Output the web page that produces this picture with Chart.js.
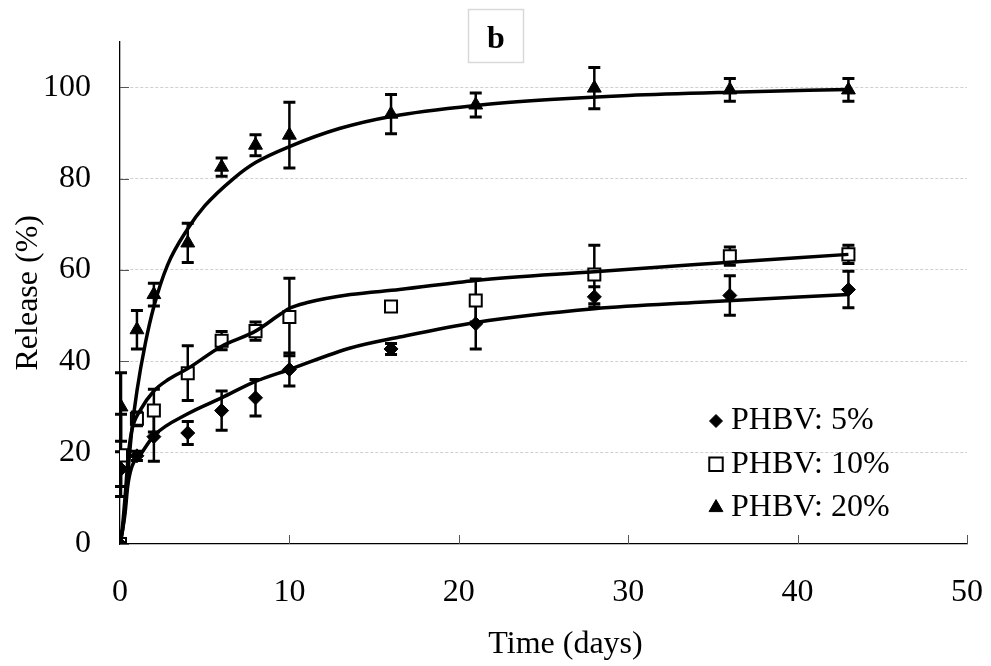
<!DOCTYPE html>
<html><head><meta charset="utf-8">
<script src="https://cdn.jsdelivr.net/npm/chart.js@4/dist/chart.umd.min.js"></script>
<style>html,body{margin:0;padding:0;background:#fff;}canvas{display:block;}</style>
</head><body>
<canvas id="c" width="991" height="666"></canvas>
<script>
// ---- data ----
const timeDays   = [0, 0.06, 1, 2, 4, 6, 8, 10, 16, 21, 28, 36, 43];
const release5   = [0, 16.4, 19.3, 23.5, 24.3, 29.2, 32.0, 38.2, 42.7, 48.2, 54.1, 54.4, 55.7];
const err5       = [0, 3.8, 1.0, 5.4, 2.5, 4.3, 4.0, 3.6, 1.2, 5.5, 2.2, 4.3, 4.0];
const release10  = [0, 19.4, 27.4, 29.2, 37.4, 44.5, 46.6, 49.7, 52.0, 53.3, 59.0, 63.0, 63.4];
const err10      = [0, 9.0, 1.5, 4.7, 6.0, 2.0, 2.0, 8.5, 0.8, 4.7, 6.4, 2.0, 2.0];
const release20  = [0, 30.0, 46.9, 54.6, 65.9, 82.5, 87.3, 89.5, 94.1, 96.1, 99.8, 99.4, 99.4];
const err20      = [0, 7.5, 4.2, 2.5, 4.3, 2.0, 2.3, 7.2, 4.3, 2.6, 4.5, 2.5, 2.5];

// fitted curves
const fit5X  = [0, 0.15, 0.3, 0.45, 0.7, 1.2, 2, 4, 6, 8, 10, 13.6, 16.5, 21, 28, 34.2, 43];
const fit5Y  = [0, 3, 6.7, 12.5, 16.9, 19.5, 23.7, 28.5, 32, 35.6, 38.2, 42.9, 45.3, 48.5, 51.5, 52.9, 54.6];
const fit10X = [0, 0.15, 0.3, 0.5, 0.7, 1.2, 2, 2.85, 4, 6, 8, 9.5, 10, 11, 13.6, 16.5, 21, 28, 34, 43];
const fit10Y = [0, 4, 10.3, 19.8, 24.9, 29.3, 33.5, 36, 38.4, 43.3, 46.6, 50.4, 51.6, 52.8, 54.6, 55.7, 57.7, 59.6, 61.2, 63.4];
const fit20X = [0, 0.15, 0.3, 0.5, 0.7, 1.0, 1.5, 2.0, 2.8, 4, 5, 6.7, 8, 10, 13, 16, 21, 25.4, 30, 36, 43];
const fit20Y = [0, 3, 8, 17, 25, 33.5, 44, 52, 61, 69, 74, 80, 83.5, 87, 91, 93.6, 96, 97.3, 98.2, 98.9, 99.5];

const xTickValues = [0, 10, 20, 30, 40, 50];
const yTickValues = [0, 20, 40, 60, 80, 100];
const seriesLabels = ['PHBV: 5%', 'PHBV: 10%', 'PHBV: 20%'];
const xTitle = 'Time (days)';
const yTitle = 'Release (%)';
const panelLabel = 'b';

// ---- build ----
const FONT = '"Liberation Serif", "Times New Roman", serif';
const pts = (xs, ys) => xs.map((x, i) => ({x: x, y: ys[i]}));

const markerDefs = [
  {style: 'rectRot', radius: 7, bg: '#000', bw: 1},
  {style: 'rect', radius: 8.5, bg: '#fff', bw: 2},
  {style: 'triangle', radius: 8, bg: '#000', bw: 1}
];
const seriesVals = [release5, release10, release20];
const seriesErr = [err5, err10, err20];
const fits = [[fit5X, fit5Y], [fit10X, fit10Y], [fit20X, fit20Y]];

const datasets = [];
seriesVals.forEach((vals, i) => {
  const m = markerDefs[i];
  datasets.push({
    label: seriesLabels[i],
    data: pts(timeDays, vals),
    errors: seriesErr[i],
    showLine: false,
    pointStyle: m.style,
    pointRadius: m.radius,
    pointHoverRadius: m.radius,
    backgroundColor: m.bg,
    borderColor: '#000',
    pointBorderWidth: m.bw,
    borderWidth: m.bw,
    order: 2
  });
});
fits.forEach((f, i) => {
  datasets.push({
    label: seriesLabels[i] + ' fit',
    data: pts(f[0], f[1]),
    showLine: true,
    pointRadius: 0,
    borderColor: '#000',
    borderWidth: 3.5,
    cubicInterpolationMode: 'monotone',
    fill: false,
    order: 0
  });
});

function drawMarker(ctx, style, x, y, r, bg, bw) {
  ctx.save();
  ctx.beginPath();
  if (style === 'rectRot') {
    ctx.moveTo(x - r, y); ctx.lineTo(x, y - r); ctx.lineTo(x + r, y); ctx.lineTo(x, y + r);
  } else if (style === 'rect') {
    const s = r * Math.SQRT1_2;
    ctx.rect(x - s, y - s, 2 * s, 2 * s);
  } else {
    ctx.moveTo(x, y - r);
    ctx.lineTo(x + r * Math.sin(2 * Math.PI / 3), y + r / 2);
    ctx.lineTo(x - r * Math.sin(2 * Math.PI / 3), y + r / 2);
  }
  ctx.closePath();
  ctx.fillStyle = bg; ctx.fill();
  ctx.lineWidth = bw; ctx.strokeStyle = '#000'; ctx.stroke();
  ctx.restore();
}

const decorPlugin = {
  id: 'decor',
  beforeDraw(chart) {
    // the x-axis title sits a little right of centre in the reference
    const xs = chart.scales.x;
    if (!xs._shiftPatched) {
      const orig = xs.drawTitle.bind(xs);
      xs.drawTitle = function () {
        const c = this.ctx; c.save(); c.translate(22, 0); orig(); c.restore();
      };
      xs._shiftPatched = true;
    }
  },
  beforeDatasetsDraw(chart) {
    const ctx = chart.ctx, xs = chart.scales.x, ys = chart.scales.y;
    // inside tick marks
    ctx.save();
    ctx.strokeStyle = '#555'; ctx.lineWidth = 1;
    yTickValues.forEach(v => {
      const py = Math.round(ys.getPixelForValue(v)) + 0.5;
      ctx.beginPath(); ctx.moveTo(xs.left, py); ctx.lineTo(xs.left + 9, py); ctx.stroke();
    });
    xTickValues.forEach(v => {
      const px = Math.round(xs.getPixelForValue(v)) + 0.5;
      ctx.beginPath(); ctx.moveTo(px, ys.bottom); ctx.lineTo(px, ys.bottom - 9); ctx.stroke();
    });
    // error bars
    ctx.strokeStyle = '#000';
    chart.data.datasets.forEach((ds, di) => {
      if (!ds.errors) return;
      const meta = chart.getDatasetMeta(di);
      meta.data.forEach((el, i) => {
        const e = ds.errors[i];
        if (!e) return;
        const v = ds.data[i].y;
        const yt = ys.getPixelForValue(v + e), yb = ys.getPixelForValue(v - e);
        const x = el.x, cap = 6;
        ctx.lineWidth = 2.5;
        ctx.beginPath(); ctx.moveTo(x, yt); ctx.lineTo(x, yb); ctx.stroke();
        ctx.lineWidth = 3;
        ctx.beginPath();
        ctx.moveTo(x - cap, yt); ctx.lineTo(x + cap, yt);
        ctx.moveTo(x - cap, yb); ctx.lineTo(x + cap, yb);
        ctx.stroke();
      });
    });
    ctx.restore();
  },
  afterDraw(chart) {
    const ctx = chart.ctx, area = chart.chartArea;
    ctx.save();
    // panel label box
    const cx = chart.width / 2;
    ctx.strokeStyle = '#d9d9d9'; ctx.lineWidth = 1.5;
    ctx.strokeRect(cx - 27, 9.5, 55, 53);
    ctx.fillStyle = '#000';
    ctx.font = 'bold 32px ' + FONT;
    ctx.textAlign = 'center'; ctx.textBaseline = 'alphabetic';
    ctx.fillText(panelLabel, cx + 0.5, 48);
    // legend
    ctx.font = '32px ' + FONT;
    ctx.textAlign = 'left'; ctx.textBaseline = 'middle';
    const lx = area.right - 251, ly0 = area.bottom - 123, step = 43.3;
    seriesLabels.forEach((lab, i) => {
      const m = markerDefs[i];
      const y = ly0 + i * step;
      const r = m.style === 'rect' ? 9.5 : (m.style === 'rectRot' ? 6.5 : 8);
      drawMarker(ctx, m.style, lx, y, r, m.bg, m.style === 'rect' ? 2 : 1);
      ctx.fillStyle = '#000';
      ctx.fillText(lab, lx + 15, y);
    });
    ctx.restore();
  }
};

new Chart(document.getElementById('c'), {
  type: 'scatter',
  data: {datasets: datasets},
  options: {
    responsive: false,
    animation: false,
    devicePixelRatio: 1,
    events: [],
    layout: {padding: {top: 41.5, right: 24, left: 0, bottom: 0}},
    plugins: {legend: {display: false}, tooltip: {enabled: false}, title: {display: false}},
    scales: {
      x: {
        type: 'linear', min: 0, max: 50,
        afterBuildTicks: s => { s.ticks = xTickValues.map(v => ({value: v})); },
        afterFit: s => { s.height = 122; },
        grid: {display: true, drawOnChartArea: false, drawTicks: true, tickLength: 29, tickColor: 'rgba(0,0,0,0)'},
        border: {display: true, color: '#000', width: 1.3},
        ticks: {font: {family: FONT, size: 32}, color: '#000', padding: 0, maxRotation: 0},
        title: {display: true, text: xTitle, font: {family: FONT, size: 32}, color: '#000', padding: {top: 0, bottom: 2}}
      },
      y: {
        type: 'linear', min: 0, max: 110,
        afterBuildTicks: s => { s.ticks = yTickValues.map(v => ({value: v})); },
        afterFit: s => { s.width = 120; },
        grid: {
          drawTicks: true, tickLength: 29, tickColor: 'rgba(0,0,0,0)',
          color: c => (c.tick && c.tick.value > 0) ? '#cfcfcf' : 'rgba(0,0,0,0)',
          lineWidth: 1
        },
        border: {display: true, color: '#000', width: 1.3, dash: [3, 2]},
        ticks: {font: {family: FONT, size: 32}, color: '#000', padding: 0},
        title: {display: true, text: yTitle, font: {family: FONT, size: 32}, color: '#000', padding: {top: 9, bottom: 0}}
      }
    }
  },
  plugins: [decorPlugin]
});
</script>
</body></html>
